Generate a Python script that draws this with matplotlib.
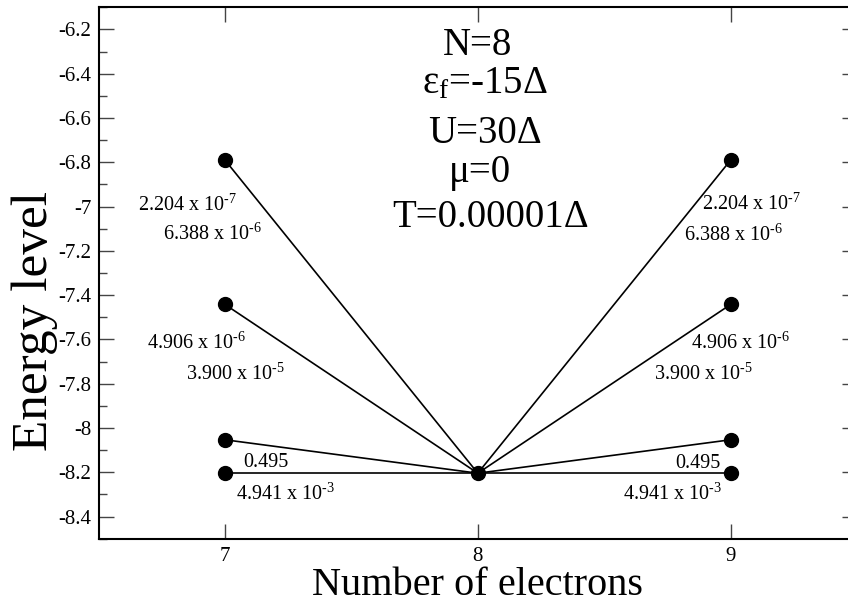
import matplotlib
matplotlib.use("Agg")
import matplotlib.pyplot as plt
from matplotlib.ticker import MultipleLocator, FuncFormatter

plt.rcParams['font.family'] = ['Liberation Serif', 'DejaVu Serif']
plt.rcParams['mathtext.fontset'] = 'custom'
plt.rcParams['mathtext.rm'] = 'Liberation Serif'
plt.rcParams['mathtext.it'] = 'Liberation Serif:italic'

# energy levels of the N-1 / N+1 states, and the ground state at N=8
electrons = [7, 8, 9]
side_levels = [-6.79, -7.442, -8.053, -8.204]
ground_level = -8.204

# transition weights written next to the lines
label_texts = ["2.204 x 10$^{\\text{-7}}$", "6.388 x 10$^{\\text{-6}}$",
               "4.906 x 10$^{\\text{-6}}$", "3.900 x 10$^{\\text{-5}}$",
               "0.495", "4.941 x 10$^{\\text{-3}}$"]
# anchor points (data coords, baseline) of those labels
left_pos = [(6.852, -7.020), (6.949, -7.151), (6.887, -7.640), (7.043, -7.783),
            (7.162, -8.175), (7.239, -8.325)]
right_pos = [(9.081, -7.016), (9.012, -7.154), (9.040, -7.640), (8.891, -7.783),
             (8.870, -8.180), (8.769, -8.325)]

params = ["N=8", "ε$_{\\mathrm{f}}$=-15Δ", "U=30Δ", "μ=0", "T=0.00001Δ"]
param_pos = [(8.0, -6.315), (8.03, -6.487), (8.03, -6.713), (8.01, -6.889), (8.05, -7.092)]

fig = plt.figure(figsize=(8.48, 6.04), dpi=100)
ax = fig.add_axes([0.1162, 0.108, 0.8945, 0.880])

for lvl in side_levels:
    ax.plot([electrons[0], electrons[1]], [lvl, ground_level], color='black', lw=1.2, zorder=2)
    ax.plot([electrons[2], electrons[1]], [lvl, ground_level], color='black', lw=1.2, zorder=2)
    ax.plot([electrons[0], electrons[2]], [lvl, lvl], ls='none', marker='o',
            ms=10, color='black', zorder=3)
ax.plot([electrons[1]], [ground_level], ls='none', marker='o', ms=10, color='black', zorder=3)

for txt, (x, y) in zip(label_texts, left_pos):
    ax.text(x, y, txt, fontsize=14.5, ha='center', va='baseline')
for txt, (x, y) in zip(label_texts, right_pos):
    ax.text(x, y, txt, fontsize=14.5, ha='center', va='baseline')

for txt, (x, y) in zip(params, param_pos):
    ax.text(x, y, txt, fontsize=28, ha='center', va='baseline')

ax.set_xlim(6.5, 9.5)
ax.set_ylim(-8.5, -6.1)
ax.set_xticks(electrons)
ax.yaxis.set_major_locator(MultipleLocator(0.2))
ax.yaxis.set_minor_locator(MultipleLocator(0.1))
ax.yaxis.set_major_formatter(FuncFormatter(lambda v, p: '%g' % round(v, 2)))

ax.tick_params(axis='both', which='both', direction='in', top=True, right=True,
               color='#444444', width=1)
ax.tick_params(axis='both', which='major', length=11, labelsize=15)
ax.tick_params(axis='y', which='minor', length=5.5)
ax.tick_params(axis='y', which='major', pad=5)
ax.tick_params(axis='x', which='major', pad=6)
for s in ax.spines.values():
    s.set_linewidth(1.5)

ax.set_xlabel("Number of electrons", fontsize=29, labelpad=1)
ax.set_ylabel("Energy level", fontsize=37)
ax.yaxis.set_label_coords(-0.053, 0.41)

fig.savefig("out.png", dpi=100)
